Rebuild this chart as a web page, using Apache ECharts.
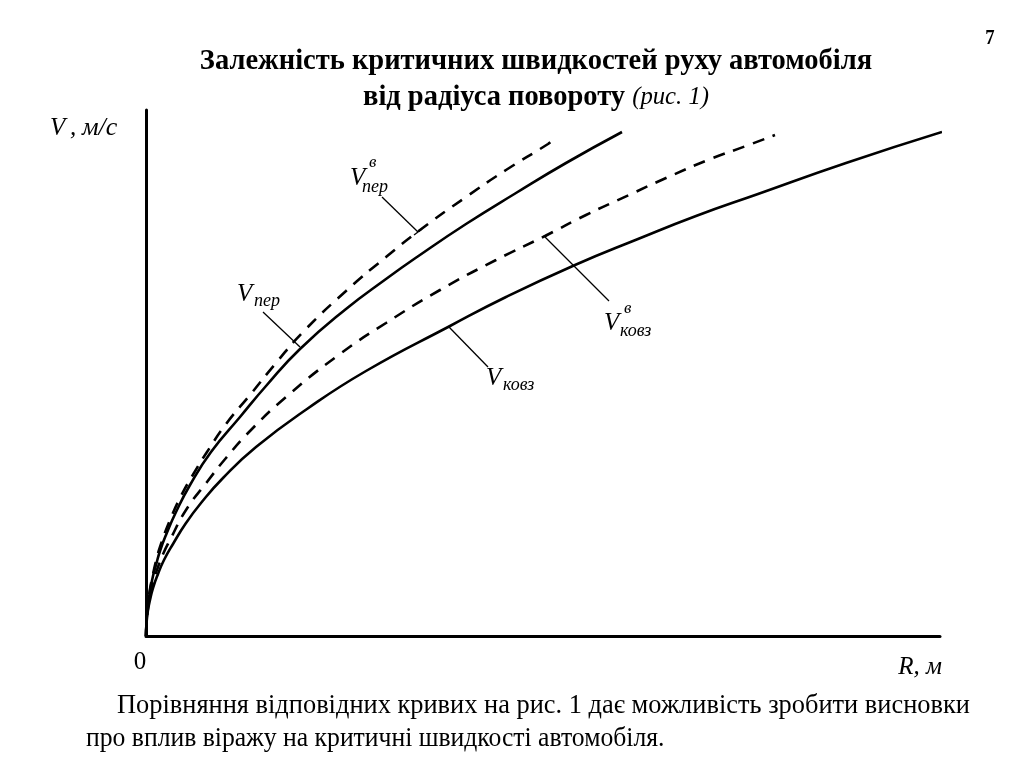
<!DOCTYPE html>
<html>
<head>
<meta charset="utf-8">
<script src="https://cdn.jsdelivr.net/npm/echarts@6/dist/echarts.min.js"></script>
<style>html,body{margin:0;padding:0;background:#fff;}#c{width:1024px;height:767px;}</style>
</head>
<body>
<div id="c"></div>
<script>
// Values (R, V in arbitrary units, origin at 0,0)
const vPerV = [[0,0],[0.5,15],[1,23],[2,33],[4,47],[6,57],[10,75],[15,92],[24,116],[35,140],[48,163],[61,184],[80,212],[104,241],[130,273],[157,304],[200,345],[240,379],[274,406],[320,439],[360,466],[402,492],[407,496]];
const vPer = [[0,0],[0.5,15],[1,22],[2,31],[4,45],[7,60],[10,71],[14,85],[20,101],[30,124],[44,151],[65,184],[94,219],[120,250],[154,287],[200,327],[240,357],[271,379],[320,412],[370,443],[420,473],[476,504]];
const vKovzV = [[0,0],[0.5,13],[1,19],[2,28],[4,40],[7,53],[12,69],[18,84],[24,96],[40,126],[61,154],[80,178],[104,205],[140,239],[194,282],[240,313],[294,346],[350,376],[399,400],[440,421],[483,441],[520,458],[562,476],[600,490],[629,501]];
const vKovz = [[0,0],[0.5,12],[1,18],[2,26],[4,36],[7,48],[12,62],[18,76],[27,92],[40,113],[55,133],[77,158],[110,189],[161,227],[220,265],[304,310],[360,339],[429,371],[492,397],[550,420],[612,442],[700,473],[796,504]];
const seriesNames = ['Vв_пер','V_пер','Vв_ковз','V_ковз'];

const serif = "'Liberation Serif','Times New Roman',serif";
const chart = echarts.init(document.getElementById('c'));

function mkSeries(name, data, dashed) {
  return {
    name: name, type: 'line', data: data, showSymbol: false, symbol: 'none',
    smooth: 0.5, silent: true,
    lineStyle: { color: '#000', width: 2.6, type: dashed ? [12, 9] : 'solid' }
  };
}
function txt(x, y, s, opts) {
  return Object.assign({
    type: 'text', x: x, y: y,
    style: Object.assign({ text: s, font: opts.font, fill: '#000',
      textAlign: 'left', textVerticalAlign: 'middle' }, opts.style || {})
  }, opts.el || {});
}
function lead(x1, y1, x2, y2) {
  return { type: 'line', shape: { x1: x1, y1: y1, x2: x2, y2: y2 }, style: { stroke: '#000', lineWidth: 1.3 } };
}
const it = (s) => 'italic ' + s + 'px ' + serif;

chart.setOption({
  animation: false,
  backgroundColor: '#fff',
  grid: { left: 146, top: 110, width: 794, height: 526, containLabel: false },
  xAxis: { type: 'value', min: 0, max: 794, axisLine: { onZero: false, lineStyle: { color: '#000', width: 3 } },
    axisTick: { show: false }, axisLabel: { show: false }, splitLine: { show: false } },
  yAxis: { type: 'value', min: 0, max: 526, axisLine: { show: true, onZero: false, lineStyle: { color: '#000', width: 3 } },
    axisTick: { show: false }, axisLabel: { show: false }, splitLine: { show: false } },
  series: [
    mkSeries(seriesNames[0], vPerV, true),
    mkSeries(seriesNames[1], vPer, false),
    mkSeries(seriesNames[2], vKovzV, true),
    mkSeries(seriesNames[3], vKovz, false)
  ],
  graphic: [
    txt(990, 38, '7', { font: 'bold 22px ' + serif, el: { scaleX: 0.85 }, style: { textAlign: 'center' } }),
    txt(536, 61, 'Залежність критичних швидкостей руху автомобіля',
      { font: 'bold 30px ' + serif, el: { scaleX: 0.95 }, style: { textAlign: 'center' } }),
    {
      type: 'text', x: 536, y: 97, scaleX: 0.95,
      style: {
        text: '{b|від радіуса повороту }{i|(рис. 1)}', textAlign: 'center', textVerticalAlign: 'middle', fill: '#000',
        rich: { b: { font: 'bold 30px ' + serif, fill: '#000' }, i: { font: 'italic 26px ' + serif, fill: '#000' } }
      }
    },
    // axis labels
    txt(50, 128, 'V', { font: it(25) }),
    txt(70, 128, ',', { font: it(25) }),
    txt(82, 128, 'м/с', { font: it(26) }),
    txt(140, 662, '0', { font: '25px ' + serif, style: { textAlign: 'center' } }),
    txt(920, 667, 'R, м', { font: it(25), style: { textAlign: 'center' } }),
    // V^в_пер
    lead(382, 197, 418, 232), lead(414, 235, 422, 229),
    txt(350, 178, 'V', { font: it(25) }),
    txt(369, 163, 'в', { font: it(17) }),
    txt(362, 187, 'пер', { font: it(18) }),
    // V_пер
    lead(263, 312, 300, 347),
    txt(237, 294, 'V', { font: it(25) }),
    txt(254, 301, 'пер', { font: it(18) }),
    // V^в_ковз
    lead(545, 237, 609, 301), lead(545, 237, 552, 232),
    txt(604, 323, 'V', { font: it(25) }),
    txt(624, 309, 'в', { font: it(17) }),
    txt(620, 331, 'ковз', { font: it(18) }),
    // V_ковз
    lead(449, 327, 488, 367),
    txt(486, 378, 'V', { font: it(25) }),
    txt(503, 385, 'ковз', { font: it(18) }),
    // body text
    txt(117, 706, 'Порівняння відповідних кривих на рис. 1 дає можливість зробити висновки',
      { font: '27px ' + serif, el: { scaleX: 0.978 } }),
    txt(86, 739, 'про вплив віражу на критичні швидкості автомобіля.',
      { font: '27px ' + serif, el: { scaleX: 0.95 } })
  ]
});
</script>
</body>
</html>
